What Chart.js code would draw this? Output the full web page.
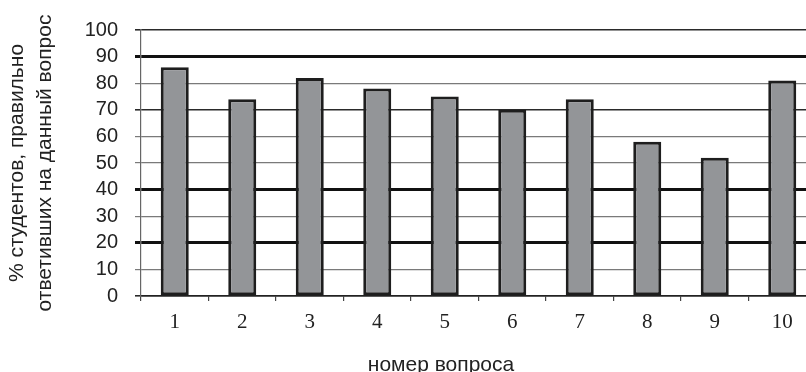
<!DOCTYPE html>
<html>
<head>
<meta charset="utf-8">
<script src="https://cdn.jsdelivr.net/npm/chart.js@4"></script>
<style>
  html, body { margin: 0; padding: 0; background: #fff; overflow: hidden; }
  #wrap { width: 806px; height: 372px; overflow: hidden; }
</style>
</head>
<body>
<div id="wrap"><canvas id="myChart" width="820" height="380"></canvas></div>
<script>
// question numbers and % of students who answered correctly
const questions = ['1', '2', '3', '4', '5', '6', '7', '8', '9', '10'];
const percentCorrect = [86, 74, 82, 78, 75, 70, 74, 58, 52, 81];
const yTicks = [0, 10, 20, 30, 40, 50, 60, 70, 80, 90, 100];
const yTitle = ['% студентов, правильно', 'ответивших на данный вопрос'];
const xTitle = 'номер вопроса';

const thickLines = [20, 40, 90];
const darkLines = [0, 70, 100];

function gridColor(ctx) {
  const v = ctx.tick ? ctx.tick.value : null;
  if (thickLines.includes(v)) return '#111';
  if (darkLines.includes(v)) return '#2a2a2a';
  return '#7a7a7a';
}

function gridWidth(ctx) {
  const v = ctx.tick ? ctx.tick.value : null;
  if (thickLines.includes(v)) return 3;
  if (darkLines.includes(v)) return 1.6;
  return 1.2;
}

// x title is drawn by hand, it sits left of the plot centre in the original
const xTitlePlugin = {
  id: 'xTitle',
  afterDraw(chart) {
    const ctx = chart.ctx;
    ctx.save();
    ctx.font = '21px "Liberation Sans", Arial, sans-serif';
    ctx.fillStyle = '#222';
    ctx.textAlign = 'center';
    ctx.textBaseline = 'alphabetic';
    ctx.fillText(xTitle, 441, 371);
    ctx.restore();
  }
};

const ctx = document.getElementById('myChart').getContext('2d');
new Chart(ctx, {
  type: 'bar',
  data: {
    labels: questions,
    datasets: [{
      data: percentCorrect,
      backgroundColor: '#939598',
      borderColor: '#1e1e1e',
      borderWidth: 3,
      borderSkipped: false,
      categoryPercentage: 1,
      barPercentage: 0.415
    }]
  },
  options: {
    responsive: false,
    animation: false,
    layout: { padding: { top: 30, right: 4, left: 0, bottom: 0 } },
    plugins: { legend: { display: false }, tooltip: { enabled: false } },
    scales: {
      x: {
        offset: true,
        grid: { offset: true, drawOnChartArea: false, tickLength: 5, color: '#444', lineWidth: 1.2 },
        border: { color: '#222', width: 1.6 },
        ticks: {
          color: '#222',
          padding: 9,
          autoSkip: false,
          maxRotation: 0,
          font: { family: '"Liberation Serif", "Times New Roman", serif', size: 21 }
        },
        afterFit(scale) { scale.height = 84; }
      },
      y: {
        min: 0,
        max: 100,
        afterBuildTicks(scale) { scale.ticks = yTicks.map(v => ({ value: v })); },
        grid: { color: gridColor, lineWidth: gridWidth, tickLength: 6 },
        border: { color: '#666', width: 1.2 },
        ticks: {
          color: '#222',
          padding: 17,
          autoSkip: false,
          font: { family: '"Liberation Sans", Arial, sans-serif', size: 20 }
        },
        title: {
          display: true,
          text: yTitle,
          color: '#222',
          font: { family: '"Liberation Sans", Arial, sans-serif', size: 21, lineHeight: 1.3 },
          padding: { top: 4, bottom: 0 }
        },
        afterFit(scale) { scale.width = 141; }
      }
    }
  },
  plugins: [xTitlePlugin]
});
</script>
</body>
</html>
